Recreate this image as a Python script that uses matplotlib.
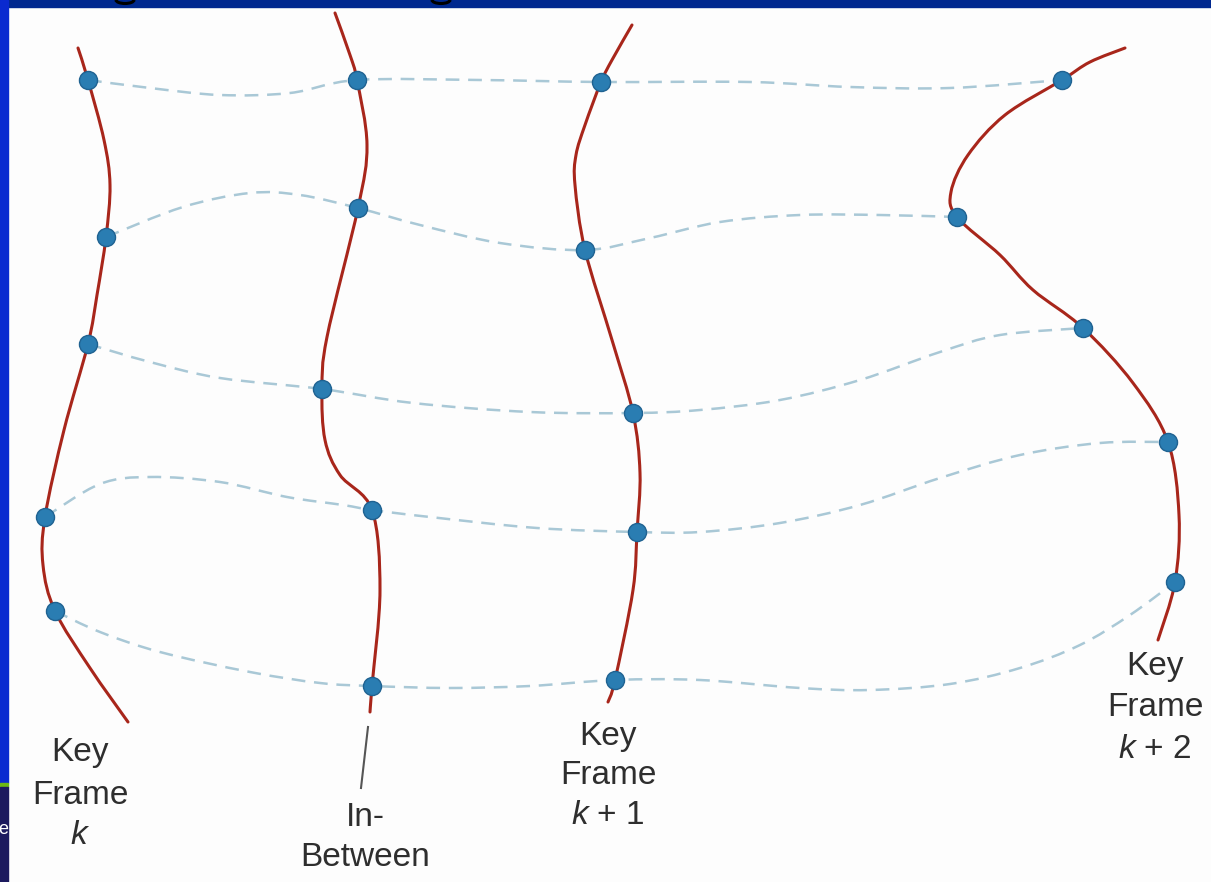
import matplotlib
matplotlib.use('Agg')
import matplotlib.pyplot as plt
import matplotlib.patches as patches
from matplotlib.path import Path
import numpy as np

plt.rcParams['font.family'] = ['Liberation Sans', 'DejaVu Sans']
plt.rcParams['mathtext.fontset'] = 'custom'
plt.rcParams['mathtext.it'] = 'Liberation Sans:italic'
plt.rcParams['mathtext.rm'] = 'Liberation Sans'

# red frame outlines (pixel coords, y down)
key_k_x = [78, 88, 104, 110, 106, 97, 88, 64, 45, 43, 55, 90, 128]
key_k_y = [48, 80, 140, 185, 237, 295, 344, 430, 517, 565, 611, 668, 722]

between_x = [335, 350, 357, 367, 358, 327, 322, 325, 340, 372, 380, 372, 370]
between_y = [13, 55, 80, 145, 208, 337, 389, 440, 475, 510, 590, 686, 712]

key_k1_x = [632, 612, 601, 585, 576, 575, 585, 612, 633, 640, 637, 633, 615, 608]
key_k1_y = [25, 60, 82, 125, 155, 185, 250, 340, 413, 473, 532, 590, 680, 702]

key_k2_x = [1125, 1090, 1062, 1005, 968, 951, 957, 1000, 1033, 1083, 1133, 1168, 1179, 1175, 1158]
key_k2_y = [48, 62, 80, 115, 155, 192, 217, 255, 290, 328, 383, 442, 515, 582, 640]

# dashed motion paths
path1_x = [88, 150, 220, 290, 357, 480, 601, 750, 850, 950, 1062]
path1_y = [80, 88, 95, 93, 80, 80, 82, 82, 87, 88, 80]
path2_x = [106, 183, 250, 300, 358, 420, 500, 585, 650, 720, 800, 880, 957]
path2_y = [237, 207, 193, 195, 208, 225, 243, 250, 238, 222, 215, 215, 217]
path3_x = [88, 150, 220, 322, 413, 530, 633, 700, 780, 860, 940, 1000, 1083]
path3_y = [344, 362, 378, 389, 403, 412, 413, 410, 400, 380, 352, 335, 328]
path4_x = [45, 100, 150, 220, 287, 343, 372, 430, 537, 637, 700, 780, 860, 940, 1020, 1100, 1168]
path4_y = [517, 484, 477, 482, 497, 505, 510, 517, 528, 532, 532, 523, 505, 478, 455, 443, 442]
path5_x = [55, 100, 160, 250, 320, 372, 450, 530, 615, 700, 800, 870, 950, 1020, 1080, 1130, 1175]
path5_y = [611, 632, 652, 672, 683, 686, 688, 686, 680, 680, 688, 690, 684, 668, 645, 615, 582]

# corresponding points
dots_x = [88, 106, 88, 45, 55,
          357, 358, 322, 372, 372,
          601, 585, 633, 637, 615,
          1062, 957, 1083, 1168, 1175]
dots_y = [80, 237, 344, 517, 611,
          80, 208, 389, 510, 686,
          82, 250, 413, 532, 680,
          80, 217, 328, 442, 582]

RED = '#a8261b'
DASH = '#a9c8d6'
DOT = '#2a7db2'
TXT = '#2e2e2e'


def smooth_path(xs, ys):
    pts = np.column_stack([xs, ys]).astype(float)
    verts = [pts[0]]
    codes = [Path.MOVETO]
    n = len(pts)
    for i in range(n - 1):
        p0 = pts[i - 1] if i > 0 else pts[i]
        p1, p2 = pts[i], pts[i + 1]
        p3 = pts[i + 2] if i + 2 < n else pts[i + 1]
        verts += [p1 + (p2 - p0) / 6, p2 - (p3 - p1) / 6, p2]
        codes += [Path.CURVE4] * 3
    return Path(verts, codes)


fig = plt.figure(figsize=(12.11, 8.82), dpi=100)
ax = fig.add_axes([0, 0, 1, 1])
ax.set_xlim(0, 1211)
ax.set_ylim(882, 0)
ax.axis('off')

# slide background
ax.add_patch(patches.Rectangle((0, 0), 1211, 882, color='#fdfdfd', zorder=0))
ax.add_patch(patches.Rectangle((0, 0), 1211, 7, color='#00288f', zorder=1))
ax.add_patch(patches.Rectangle((0, 0), 8, 783, color='#0a2ad0', zorder=1))
ax.add_patch(patches.Rectangle((0, 783), 8, 4, color='#6cb814', zorder=1))
ax.add_patch(patches.Rectangle((0, 787), 8, 95, color='#1c1a5e', zorder=1))
ax.text(-2, 829, 'e', color='white', fontsize=13, va='center', ha='left', zorder=2)
# bits of the cut-off title
for cx in (125, 441):
    ax.add_patch(patches.Arc((cx, 0), 18, 7, theta1=0, theta2=180,
                             color='black', lw=2.2, zorder=2))

for xs, ys in [(path1_x, path1_y), (path2_x, path2_y), (path3_x, path3_y),
               (path4_x, path4_y), (path5_x, path5_y)]:
    p = patches.PathPatch(smooth_path(xs, ys), fill=False, edgecolor=DASH,
                          lw=1.8, zorder=3)
    p.set_linestyle((0, (5.5, 3.5)))
    ax.add_patch(p)

for xs, ys in [(key_k_x, key_k_y), (between_x, between_y),
               (key_k1_x, key_k1_y), (key_k2_x, key_k2_y)]:
    ax.add_patch(patches.PathPatch(smooth_path(xs, ys), fill=False,
                                   edgecolor=RED, lw=2.2, zorder=4,
                                   capstyle='round'))

ax.plot(dots_x, dots_y, 'o', ms=13, color=DOT, mec='#1f6291', mew=1, zorder=5)

# pointer for In-Between
ax.plot([368, 361], [727, 788], color='#555555', lw=1.5, zorder=4)

fs = 24
labels = [
    (80, [752, 796, 836], ['Key', 'Frame', '$k$']),
    (365, [817, 858], ['In-', 'Between']),
    (608, [736, 776, 816], ['Key', 'Frame', '$k$ + 1']),
    (1155, [666, 708, 750], ['Key', 'Frame', '$k$ + 2']),
]
for cx, ys, lines in labels:
    for y, s in zip(ys, lines):
        ax.text(cx, y, s, fontsize=fs, color=TXT, ha='center', va='center', zorder=6)

plt.savefig('out.png', dpi=100)
